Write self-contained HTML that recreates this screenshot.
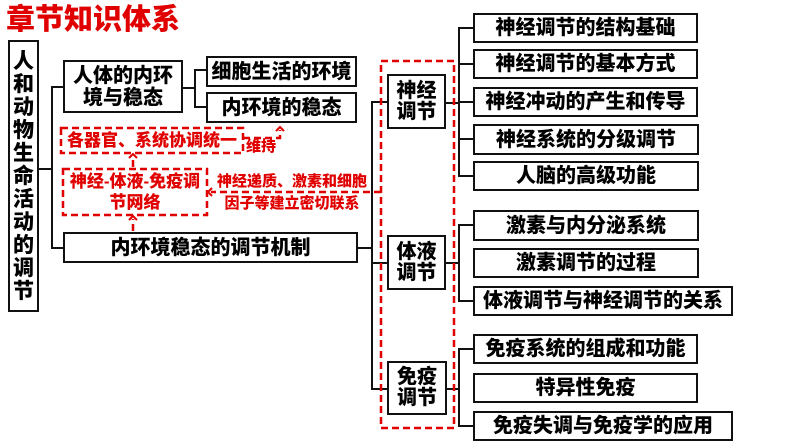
<!DOCTYPE html>
<html><head><meta charset="utf-8">
<style>
*{margin:0;padding:0;box-sizing:border-box}
html,body{width:794px;height:447px;background:#fff;overflow:hidden}
body{position:relative;font-family:"Liberation Sans","Noto Sans CJK SC",sans-serif;font-weight:900;color:#000}
.b{position:absolute;border:2px solid #111;background:#fff;display:flex;align-items:center;justify-content:center;text-align:center;font-size:20px;line-height:22px;white-space:nowrap}
.r{position:absolute;color:#e00000;text-align:center;white-space:nowrap}
svg{position:absolute;left:0;top:0}
</style></head><body>
<svg width="794" height="447">
<g stroke="#111" stroke-width="2" fill="none">
<line x1="39" y1="169" x2="52" y2="169"/>
<line x1="52" y1="86" x2="52" y2="249"/>
<line x1="52" y1="87" x2="63" y2="87"/>
<line x1="52" y1="248" x2="63" y2="248"/>
<line x1="183" y1="88" x2="195" y2="88"/>
<line x1="195" y1="69" x2="195" y2="108"/>
<line x1="195" y1="70" x2="206" y2="70"/>
<line x1="195" y1="107" x2="206" y2="107"/>
<line x1="358" y1="248" x2="372" y2="248"/>
<line x1="372" y1="101" x2="372" y2="390"/>
<line x1="372" y1="102" x2="387" y2="102"/>
<line x1="372" y1="263" x2="387" y2="263"/>
<line x1="372" y1="389" x2="387" y2="389"/>
<line x1="446" y1="103" x2="459" y2="103"/>
<line x1="459" y1="27" x2="459" y2="177"/>
<line x1="459" y1="28" x2="473" y2="28"/>
<line x1="459" y1="64" x2="473" y2="64"/>
<line x1="459" y1="102" x2="473" y2="102"/>
<line x1="459" y1="139" x2="473" y2="139"/>
<line x1="459" y1="176" x2="473" y2="176"/>
<line x1="446" y1="263" x2="459" y2="263"/>
<line x1="459" y1="224" x2="459" y2="302"/>
<line x1="459" y1="225" x2="473" y2="225"/>
<line x1="459" y1="301" x2="473" y2="301"/>
<line x1="447" y1="389" x2="459" y2="389"/>
<line x1="459" y1="348" x2="459" y2="427"/>
<line x1="459" y1="349" x2="473" y2="349"/>
<line x1="459" y1="426" x2="473" y2="426"/>
</g>
<g stroke="#e00000" stroke-width="2.5" fill="none" stroke-dasharray="7,4">
<rect x="381" y="61" width="73" height="367"/>
<rect x="61" y="128" width="182" height="25"/>
<rect x="63" y="169" width="144" height="46"/>
<polyline points="243,138 280,138 280,130"/>
<line x1="133" y1="167" x2="133" y2="157"/>
<line x1="133" y1="231" x2="133" y2="219"/>
<line x1="381" y1="192" x2="211" y2="192"/>
</g>
<g stroke="#e00000" stroke-width="2" fill="none">
<polyline points="276,131 280,127 284,131"/>
<polyline points="129,158 133,154 137,158"/>
<polyline points="129,220 133,216 137,220"/>
<polyline points="212,188 208,192 212,196"/>
</g>
</svg>

<div class="r" style="left:6px;top:3px;font-size:29px;line-height:35px;">章节知识体系</div>

<div class="b" style="left:8px;top:40px;width:31px;height:272px;font-size:21px;line-height:23px;white-space:normal;">人<br>和<br>动<br>物<br>生<br>命<br>活<br>动<br>的<br>调<br>节</div>

<div class="b" style="left:63px;top:60px;width:120px;height:53px;">人体的内环<br>境与稳态</div>
<div class="b" style="left:206px;top:56px;width:151px;height:31px;">细胞生活的环境</div>
<div class="b" style="left:206px;top:92px;width:151px;height:31px;">内环境的稳态</div>
<div class="b" style="left:63px;top:232px;width:295px;height:31px;">内环境稳态的调节机制</div>

<div class="r" style="left:61px;top:130px;width:182px;font-size:17px;line-height:21px;">各器官、系统协调统一</div>
<div class="r" style="left:63px;top:171px;width:144px;font-size:17px;line-height:21px;">神经-体液-免疫调<br>节网络</div>
<div class="r" style="left:246px;top:137px;font-size:15px;line-height:20px;">维持</div>
<div class="r" style="left:212px;top:172px;width:160px;font-size:15px;line-height:19px;">神经递质、激素和细胞</div>
<div class="r" style="left:212px;top:194px;width:160px;font-size:15px;line-height:19px;">因子等建立密切联系</div>

<div class="b" style="left:387px;top:74px;width:59px;height:55px;line-height:21px;">神经<br>调节</div>
<div class="b" style="left:387px;top:235px;width:59px;height:55px;line-height:21px;">体液<br>调节</div>
<div class="b" style="left:387px;top:361px;width:60px;height:54px;line-height:21px;">免疫<br>调节</div>

<div class="b" style="left:473px;top:13px;width:225px;height:30px;">神经调节的结构基础</div>
<div class="b" style="left:473px;top:49px;width:225px;height:30px;">神经调节的基本方式</div>
<div class="b" style="left:473px;top:87px;width:225px;height:30px;">神经冲动的产生和传导</div>
<div class="b" style="left:473px;top:124px;width:226px;height:31px;">神经系统的分级调节</div>
<div class="b" style="left:473px;top:161px;width:226px;height:30px;">人脑的高级功能</div>

<div class="b" style="left:473px;top:210px;width:226px;height:31px;">激素与内分泌系统</div>
<div class="b" style="left:473px;top:248px;width:226px;height:30px;">激素调节的过程</div>
<div class="b" style="left:473px;top:286px;width:260px;height:30px;">体液调节与神经调节的关系</div>

<div class="b" style="left:473px;top:334px;width:225px;height:30px;">免疫系统的组成和功能</div>
<div class="b" style="left:473px;top:373px;width:225px;height:30px;">特异性免疫</div>
<div class="b" style="left:473px;top:411px;width:260px;height:30px;">免疫失调与免疫学的应用</div>
</body></html>
